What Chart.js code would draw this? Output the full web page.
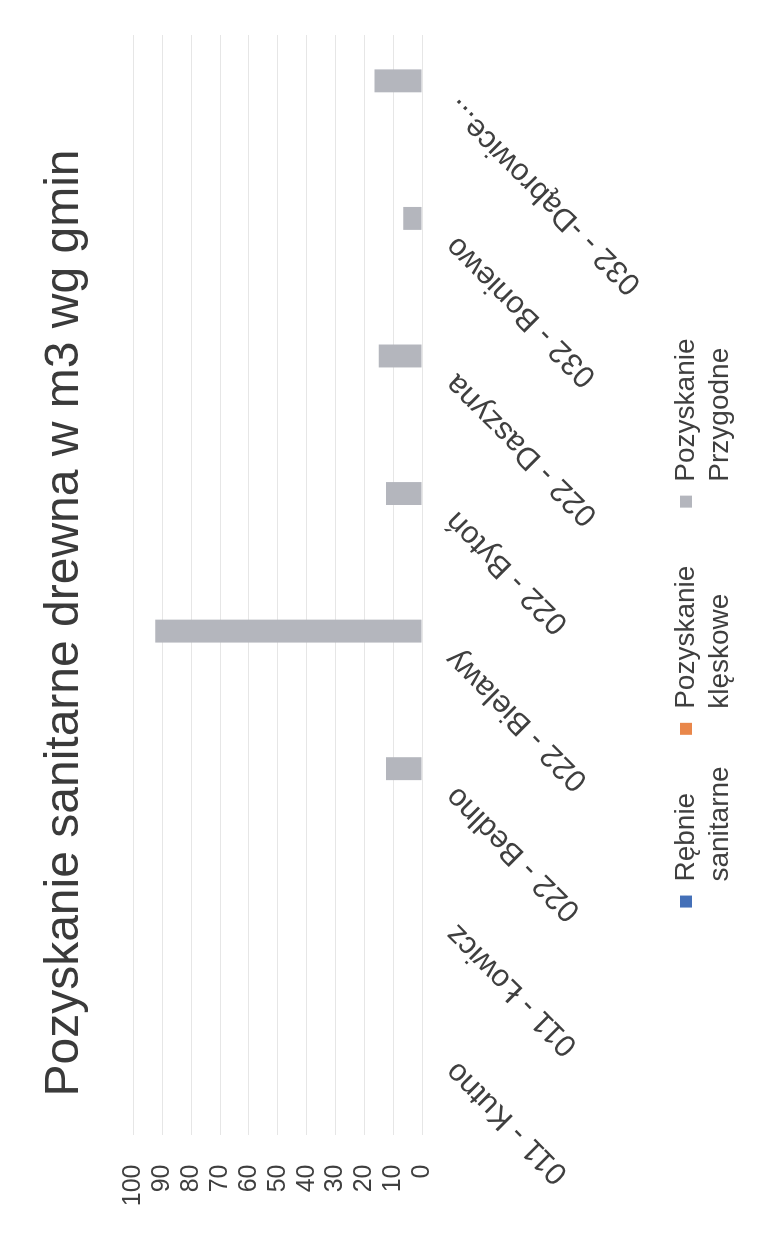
<!DOCTYPE html>
<html>
<head>
<meta charset="utf-8">
<script src="https://cdn.jsdelivr.net/npm/chart.js@4.4.1/dist/chart.umd.min.js"></script>
<style>
  html, body { margin: 0; padding: 0; background: #fff; overflow: hidden; }
  body { width: 759px; height: 1251px; position: relative; }
  /* the scanned chart lies on its side: draw it upright, then turn it */
  #wrap {
    position: absolute; left: 0; top: 0;
    width: 1251px; height: 759px;
    transform-origin: 0 0;
    transform: translateY(1251px) rotate(-90deg);
  }
</style>
</head>
<body>
<div id="wrap"><canvas id="chart" width="1251" height="759"></canvas></div>
<script>
// Data
const categories = ['011 - Kutno', '011 - Łowicz', '022 - Bedlno', '022 - Bielawy', '022 - Bytoń', '022 - Daszyna', '032 - Boniewo', '032 - -Dąbrowice...'];
const rebnieSanitarne = [0, 0, 0, 0, 0, 0, 0, 0];
const pozyskanieKleskowe = [0, 0, 0, 0, 0, 0, 0, 0];
const pozyskaniePrzygodne = [0, 0, 12.5, 92.5, 12.5, 15, 6.5, 16.5];
const valueMin = 0;
const valueMax = 100;
const valueStep = 10;
// legend names are on two lines in the picture
const seriesFirstLine = ['Rębnie', 'Pozyskanie', 'Pozyskanie'];
const seriesSecondLine = ['sanitarne', 'klęskowe', 'Przygodne'];

const textColor = '#3f3f3f';
const font = "'Liberation Sans', Arial, sans-serif";
const legendSize = 28;
const legendBox = 12;

// Chart.js v4 legend sizes items by one line only, so the second line is added here
const legendSecondLine = {
    id: 'legendSecondLine',
    afterDraw(chart) {
        const legend = chart.legend;
        if (!legend || !legend.legendHitBoxes) return;
        const c = chart.ctx;
        c.save();
        c.font = legendSize + 'px ' + font;
        c.fillStyle = textColor;
        c.textAlign = 'left';
        c.textBaseline = 'middle';
        legend.legendHitBoxes.forEach(function(box, i) {
            const x = box.left + legendBox + legendSize / 2;
            const y = box.top + box.height / 2 + 34;
            c.fillText(seriesSecondLine[i], x, y);
        });
        c.restore();
    }
};

document.addEventListener('DOMContentLoaded', function() {
    const ctx = document.getElementById('chart').getContext('2d');
    new Chart(ctx, {
        type: 'bar',
        data: {
            labels: categories,
            datasets: [
                { label: seriesFirstLine[0], data: rebnieSanitarne, backgroundColor: '#4470b8' },
                { label: seriesFirstLine[1], data: pozyskanieKleskowe, backgroundColor: '#e9874a' },
                { label: seriesFirstLine[2], data: pozyskaniePrzygodne, backgroundColor: '#b4b6bd' }
            ]
        },
        plugins: [legendSecondLine],
        options: {
            responsive: false,
            animation: false,
            devicePixelRatio: 1,
            categoryPercentage: 0.5,
            barPercentage: 1,
            layout: { padding: { left: 40, right: 35, top: 0, bottom: 49 } },
            plugins: {
                title: {
                    display: true,
                    text: 'Pozyskanie sanitarne drewna w m3 wg gmin',
                    color: '#3a3a3a',
                    font: { family: font, size: 48, weight: 'normal', lineHeight: 1.2 },
                    padding: { top: 36, bottom: 40 }
                },
                legend: {
                    position: 'bottom',
                    labels: {
                        color: textColor,
                        font: { family: font, size: legendSize, lineHeight: 1.2 },
                        boxWidth: legendBox,
                        boxHeight: legendBox,
                        padding: 58
                    }
                },
                tooltip: { enabled: false }
            },
            scales: {
                x: {
                    grid: { display: false, drawTicks: false },
                    border: { display: false },
                    ticks: {
                        color: textColor,
                        font: { family: font, size: 31 },
                        minRotation: 45,
                        maxRotation: 45,
                        autoSkip: false,
                        padding: 16
                    },
                    afterFit: function(scale) {
                        scale.height = 192;
                        // long slanted names run below the axis box, as in the picture
                        scale._computeLabelArea = function() { return undefined; };
                    }
                },
                y: {
                    min: valueMin,
                    max: valueMax,
                    grid: { color: '#e6e6e6', lineWidth: 1, drawTicks: false },
                    border: { display: false },
                    ticks: {
                        stepSize: valueStep,
                        autoSkip: false,
                        color: textColor,
                        font: { family: font, size: 25 },
                        padding: 29
                    },
                    afterFit: function(scale) { scale.width = 75.5; }
                }
            }
        }
    });
});
</script>
</body>
</html>
